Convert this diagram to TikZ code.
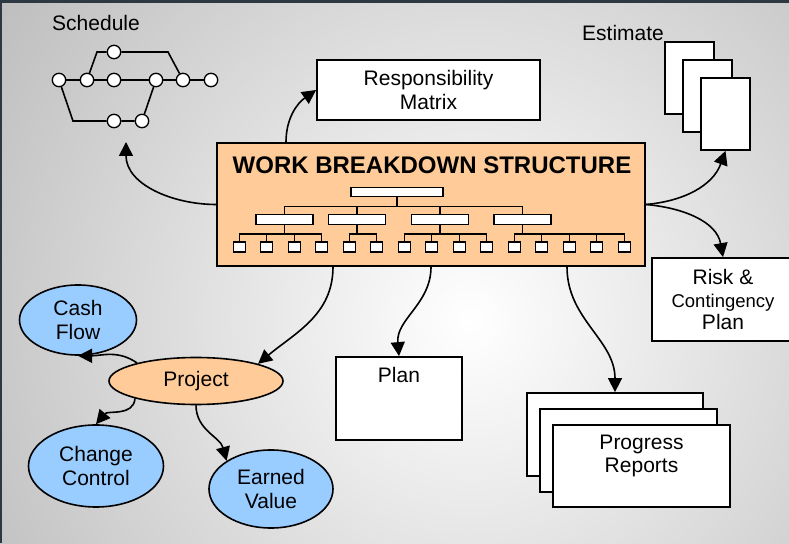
\documentclass[tikz,border=0pt]{standalone}
\usepackage{fontspec}
\setmainfont{Liberation Sans}
\usetikzlibrary{shapes.geometric,arrows.meta}
\definecolor{peach}{RGB}{255,204,153}
\definecolor{skyblue}{RGB}{153,204,255}
\definecolor{bggray}{RGB}{168,168,168}
\definecolor{framedark}{RGB}{46,56,66}

\begin{document}
\begin{tikzpicture}[x=1pt,y=1pt,font=\fontsize{21}{23.5}\selectfont]
    \tikzstyle{dot}=[circle, draw, fill=white, line width=1.3pt,
    inner sep=0pt, minimum size=13.4pt]
    \tikzstyle{treebox}=[rectangle, draw, fill=white, line width=1.2pt, inner sep=0pt]
    \tikzstyle{whitebox}=[rectangle, draw, fill=white, line width=1.8pt,
    inner sep=0pt, align=center]
    \tikzstyle{bubble}=[ellipse, draw, fill=skyblue, line width=1.6pt,
    inner sep=0pt, align=center]
    \tikzstyle{conn}=[line width=1.6pt, -{Triangle[length=14pt,width=14pt]}]
    \tikzstyle{treeline}=[line width=1.4pt]

    \useasboundingbox (0,0) rectangle (789,543);
    \begin{scope}
        \clip (0,0) rectangle (789,543);
        \fill[bggray] (0,0) rectangle (789,543);
        \shade[inner color=white, outer color=bggray] (470,223) circle (760);
    \end{scope}
    \fill[framedark] (0,540) rectangle (789,543);
    \fill[framedark] (0,0) rectangle (2,543);

    % schedule network
    \node (schedlabel) at (96,520) {Schedule};
    \foreach \n/\x/\y in {s1/59/463, s2/87/463, s3/114/463, s4/156/463, s5/183/463,
        s6/211/463, s7/114/491, s8/114/422, s9/142/422}
        \node[dot] (\n) at (\x,\y) {};
    \coordinate (c1) at (97,491);
    \coordinate (c2) at (168,491);
    \coordinate (c3) at (73,422);
    \draw[line width=1.6pt] (s1) -- (s2) -- (s3) -- (s4) -- (s5) -- (s6);
    \draw[line width=1.6pt] (s2) -- (c1) -- (s7) -- (c2) -- (s5);
    \draw[line width=1.6pt] (s1) -- (c3) -- (s8) -- (s9) -- (s4);
    \coordinate (schedtip) at (126,401);

    % work breakdown structure
    \node[rectangle, draw, fill=peach, line width=1.8pt, inner sep=0pt,
    minimum width=428pt, minimum height=123pt] (wbs) at (431,338.5) {};
    \node[font=\fontsize{24}{28}\selectfont\bfseries] (wbstitle) at (432,378)
        {WORK BREAKDOWN STRUCTURE};
    \node[treebox, minimum width=92pt, minimum height=9.5pt] (t0) at (397,351) {};
    \foreach \i/\x in {1/284.5, 2/357, 3/440, 4/522.5} {
        \node[treebox, minimum width=57pt, minimum height=9.5pt] (m\i) at (\x,323.5) {};
        \draw[treeline] (t0.south) -- ++(0,-9) -| (m\i.north);
    }
    \foreach \j/\i in {0/1, 1/1, 2/1, 3/1, 4/2, 5/2, 6/3, 7/3, 8/3, 9/3,
        10/4, 11/4, 12/4, 13/4, 14/4} {
        \node[treebox, minimum width=12pt, minimum height=10pt] (l\j)
            at ({239.2+27.5*\j},296) {};
        \draw[treeline] (m\i.south) -- ++(0,-9) -| (l\j.north);
    }

    % outputs
    \node[whitebox, minimum width=223pt, minimum height=60pt] (resp) at (428.5,453)
        {Responsibility\\Matrix};
    \node (estlabel) at (623,510) {Estimate};
    \node[whitebox, minimum width=49pt, minimum height=72pt] (est1) at (689.5,465) {};
    \node[whitebox, minimum width=49pt, minimum height=72pt] (est2) at (707.5,447) {};
    \node[whitebox, minimum width=49pt, minimum height=72pt] (est3) at (725.5,429) {};
    \node[whitebox, minimum width=142pt, minimum height=83pt,
    font=\fontsize{21}{22.5}\selectfont] (risk) at (723,243.5)
        {Risk \&\\{\fontsize{18.5}{22.5}\selectfont Contingency}\\Plan};
    \node[whitebox, minimum width=126pt, minimum height=83pt] (plan) at (399,144.5) {};
    \node (plantext) at ([yshift=23.5pt]plan.center) {Plan};
    \node[whitebox, minimum width=176pt, minimum height=83pt] (prog1) at (615,108.5) {};
    \node[whitebox, minimum width=177pt, minimum height=83pt] (prog2) at (628.5,92.5) {};
    \node[whitebox, minimum width=177pt, minimum height=82pt] (prog3) at (641.5,77) {};
    \node[align=center] (progtext) at ([yshift=10pt]prog3.center) {Progress\\Reports};

    % project
    \node[ellipse, draw, fill=peach, line width=1.6pt, inner sep=0pt,
    minimum width=174pt, minimum height=47pt] (project) at (196,162) {Project};
    \node[bubble, minimum width=117pt, minimum height=70pt] (cash) at (78,223) {Cash\\Flow};
    \node[bubble, minimum width=135pt, minimum height=82pt] (change) at (96,77)
        {Change\\Control};
    \node[bubble, minimum width=124pt, minimum height=78pt] (earned) at (271,54)
        {Earned\\Value};

    % connectors
    \draw[conn] (wbs.west) to[out=180,in=-90] (schedtip);
    \draw[conn] ([xshift=-145pt]wbs.north) to[out=90,in=215] (resp.west);
    \draw[conn] (wbs.east) to[out=5,in=250] (est3.south);
    \draw[conn] (wbs.east) to[out=-5,in=100] (risk.north);
    \draw[conn] ([xshift=-98pt]wbs.south) to[out=-90,in=40] (project.north east);
    \draw[conn] (wbs.south) to[out=-90,in=95] (plan.north);
    \draw[conn] ([xshift=136pt]wbs.south) to[out=-90,in=90] (prog1.north);
    \draw[conn] (project.163) to[out=145,in=0] (cash.south);
    \draw[conn] (project.196) to[out=-95,in=50] (change.north);
    \draw[conn] (project.south) to[out=-90,in=105] (earned.north west);
\end{tikzpicture}
\end{document}
